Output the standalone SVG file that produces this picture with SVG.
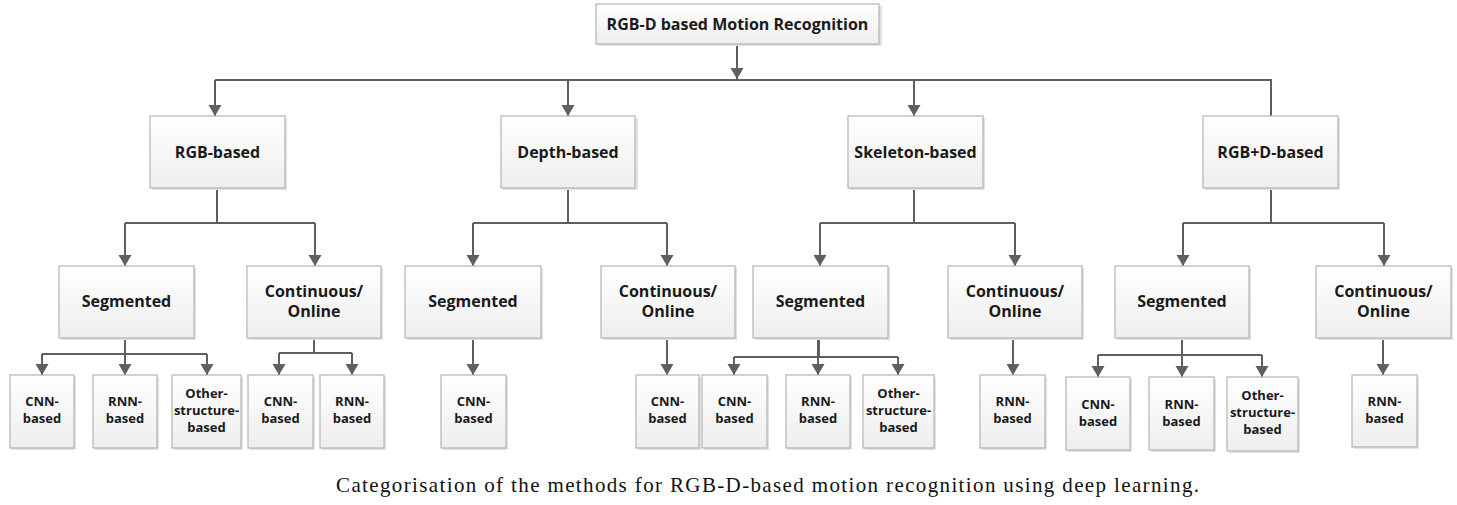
<svg xmlns="http://www.w3.org/2000/svg" width="1457" height="505" viewBox="0 0 1457 505">
<defs>
<linearGradient id="g" x1="0" y1="0" x2="0" y2="1">
<stop offset="0" stop-color="#ffffff"/>
<stop offset="1" stop-color="#eeeeee"/>
</linearGradient>
<marker id="ah" markerUnits="userSpaceOnUse" markerWidth="14" markerHeight="14" refX="11" refY="6.5" orient="auto">
<path d="M0,0 L11,6.5 L0,13 z" fill="#5f5f5f"/>
</marker>
</defs>
<style>
.b{fill:url(#g);stroke:#b4b4b4;stroke-width:1.2}
.s{fill:#e2e2e2;stroke:none}
.t{font-family:"Open Sans","DejaVu Sans",sans-serif;font-weight:bold;fill:#1a1a1a;text-anchor:middle}
.t1{font-size:16px}
.t2{font-size:16px}
.t3{font-size:13px}
.c{fill:none;stroke:#5f5f5f;stroke-width:2}
.a{marker-end:url(#ah)}
.cap{font-family:"Liberation Serif","Times New Roman",serif;font-size:21px;fill:#111;text-anchor:middle}
</style>
<g id="connectors">
<path class="c a" d="M737,44 V79"/>
<path class="c" d="M215,80 H1271 V116"/>
<path class="c a" d="M215,80 V116"/>
<path class="c a" d="M568,80 V116"/>
<path class="c a" d="M914,80 V116"/>
<path class="c" d="M217,188 V223 H125"/>
<path class="c" d="M217,223 H315"/>
<path class="c a" d="M125,223 V266"/>
<path class="c a" d="M315,223 V266"/>
<path class="c" d="M125,338 V354 H42"/>
<path class="c" d="M125,354 H207"/>
<path class="c a" d="M42,354 V375"/>
<path class="c a" d="M125,338 V375"/>
<path class="c a" d="M207,354 V375"/>
<path class="c" d="M314,338 V353 H279"/>
<path class="c" d="M314,353 H352"/>
<path class="c a" d="M279,353 V375"/>
<path class="c a" d="M352,353 V375"/>
<path class="c" d="M568,188 V223 H473"/>
<path class="c" d="M568,223 H667"/>
<path class="c a" d="M473,223 V266"/>
<path class="c a" d="M667,223 V266"/>
<path class="c a" d="M473,338 V375"/>
<path class="c a" d="M667,338 V375"/>
<path class="c" d="M914,188 V223 H820"/>
<path class="c" d="M914,223 H1015"/>
<path class="c a" d="M820,223 V266"/>
<path class="c a" d="M1015,223 V266"/>
<path class="c" d="M819,338 V357 H734"/>
<path class="c" d="M819,357 H898"/>
<path class="c a" d="M734,357 V375"/>
<path class="c a" d="M818,338 V375"/>
<path class="c a" d="M898,357 V375"/>
<path class="c a" d="M1013,338 V375"/>
<path class="c" d="M1271,188 V223 H1183"/>
<path class="c" d="M1271,223 H1384"/>
<path class="c a" d="M1183,223 V266"/>
<path class="c a" d="M1384,223 V266"/>
<path class="c" d="M1182,338 V355 H1098"/>
<path class="c" d="M1182,355 H1262"/>
<path class="c a" d="M1098,355 V377"/>
<path class="c a" d="M1182,338 V377"/>
<path class="c a" d="M1262,355 V377"/>
<path class="c a" d="M1383,338 V375"/>
</g>
<g id="root"><rect class="s" x="598" y="6" width="284" height="40"/><rect class="b" x="596" y="4" width="283" height="40"/><text class="t t1" x="737.5" y="30">RGB-D based Motion Recognition</text></g>
<g id="rgb"><rect class="s" x="152" y="118" width="135" height="72"/><rect class="b" x="150" y="116" width="135" height="72"/><text class="t t1" x="217.5" y="157.5">RGB-based</text></g>
<g id="depth"><rect class="s" x="503" y="118" width="135" height="72"/><rect class="b" x="501" y="116" width="134" height="72"/><text class="t t1" x="568" y="157.5">Depth-based</text></g>
<g id="skeleton"><rect class="s" x="850" y="118" width="135" height="72"/><rect class="b" x="848" y="116" width="135" height="72"/><text class="t t1" x="915.5" y="157.5">Skeleton-based</text></g>
<g id="rgbd"><rect class="s" x="1205" y="118" width="135" height="72"/><rect class="b" x="1203" y="116" width="135" height="72"/><text class="t t1" x="1270.5" y="157.5">RGB+D-based</text></g>

<g id="rgb-seg"><rect class="s" x="61" y="268" width="135" height="72"/><rect class="b" x="59" y="266" width="135" height="72"/><text class="t t2" x="126.5" y="307">Segmented</text></g>
<g id="rgb-cont"><rect class="s" x="249" y="268" width="134" height="72"/><rect class="b" x="247" y="266" width="134" height="72"/><text class="t t2" x="314" y="297">Continuous/</text><text class="t t2" x="314" y="317">Online</text></g>
<g id="depth-seg"><rect class="s" x="407" y="268" width="136" height="72"/><rect class="b" x="405" y="266" width="136" height="72"/><text class="t t2" x="473" y="307">Segmented</text></g>
<g id="depth-cont"><rect class="s" x="603" y="268" width="134" height="72"/><rect class="b" x="601" y="266" width="134" height="72"/><text class="t t2" x="668" y="297">Continuous/</text><text class="t t2" x="668" y="317">Online</text></g>
<g id="skel-seg"><rect class="s" x="755" y="268" width="135" height="72"/><rect class="b" x="753" y="266" width="135" height="72"/><text class="t t2" x="820.5" y="307">Segmented</text></g>
<g id="skel-cont"><rect class="s" x="950" y="268" width="134" height="72"/><rect class="b" x="948" y="266" width="134" height="72"/><text class="t t2" x="1015" y="297">Continuous/</text><text class="t t2" x="1015" y="317">Online</text></g>
<g id="rgbd-seg"><rect class="s" x="1117" y="268" width="134" height="72"/><rect class="b" x="1115" y="266" width="134" height="72"/><text class="t t2" x="1182" y="307">Segmented</text></g>
<g id="rgbd-cont"><rect class="s" x="1318" y="268" width="135" height="72"/><rect class="b" x="1316" y="266" width="135" height="72"/><text class="t t2" x="1383.5" y="297">Continuous/</text><text class="t t2" x="1383.5" y="317">Online</text></g>

<g id="rgb-seg-cnn"><rect class="s" x="12" y="377" width="64" height="73"/><rect class="b" x="10" y="375" width="64" height="73"/><text class="t t3" x="42" y="406">CNN-</text><text class="t t3" x="42" y="423">based</text></g>
<g id="rgb-seg-rnn"><rect class="s" x="95" y="377" width="64" height="73"/><rect class="b" x="93" y="375" width="64" height="73"/><text class="t t3" x="125" y="406">RNN-</text><text class="t t3" x="125" y="423">based</text></g>
<g id="rgb-seg-other"><rect class="s" x="174" y="377" width="69" height="73"/><rect class="b" x="172" y="375" width="69" height="73"/><text class="t t3" x="206.5" y="398">Other-</text><text class="t t3" x="206.5" y="415">structure-</text><text class="t t3" x="206.5" y="432">based</text></g>
<g id="rgb-cont-cnn"><rect class="s" x="250" y="377" width="65" height="73"/><rect class="b" x="248" y="375" width="65" height="73"/><text class="t t3" x="280.5" y="406">CNN-</text><text class="t t3" x="280.5" y="423">based</text></g>
<g id="rgb-cont-rnn"><rect class="s" x="322" y="377" width="64" height="73"/><rect class="b" x="320" y="375" width="64" height="73"/><text class="t t3" x="352" y="406">RNN-</text><text class="t t3" x="352" y="423">based</text></g>
<g id="depth-seg-cnn"><rect class="s" x="443" y="377" width="65" height="73"/><rect class="b" x="441" y="375" width="65" height="73"/><text class="t t3" x="473.5" y="406">CNN-</text><text class="t t3" x="473.5" y="423">based</text></g>
<g id="depth-cont-cnn"><rect class="s" x="638" y="377" width="63" height="73"/><rect class="b" x="636" y="375" width="63" height="73"/><text class="t t3" x="667.5" y="406">CNN-</text><text class="t t3" x="667.5" y="423">based</text></g>
<g id="skel-seg-cnn"><rect class="s" x="704" y="377" width="65" height="73"/><rect class="b" x="702" y="375" width="65" height="73"/><text class="t t3" x="734.5" y="406">CNN-</text><text class="t t3" x="734.5" y="423">based</text></g>
<g id="skel-seg-rnn"><rect class="s" x="788" y="377" width="64" height="73"/><rect class="b" x="786" y="375" width="64" height="73"/><text class="t t3" x="818" y="406">RNN-</text><text class="t t3" x="818" y="423">based</text></g>
<g id="skel-seg-other"><rect class="s" x="865" y="377" width="71" height="73"/><rect class="b" x="863" y="375" width="71" height="73"/><text class="t t3" x="898.5" y="398">Other-</text><text class="t t3" x="898.5" y="415">structure-</text><text class="t t3" x="898.5" y="432">based</text></g>
<g id="skel-cont-rnn"><rect class="s" x="982" y="377" width="65" height="73"/><rect class="b" x="980" y="375" width="65" height="73"/><text class="t t3" x="1012.5" y="406">RNN-</text><text class="t t3" x="1012.5" y="423">based</text></g>
<g id="rgbd-seg-cnn"><rect class="s" x="1068" y="379" width="64" height="73"/><rect class="b" x="1066" y="377" width="64" height="73"/><text class="t t3" x="1098" y="409">CNN-</text><text class="t t3" x="1098" y="426">based</text></g>
<g id="rgbd-seg-rnn"><rect class="s" x="1151" y="379" width="65" height="73"/><rect class="b" x="1149" y="377" width="65" height="73"/><text class="t t3" x="1181.5" y="409">RNN-</text><text class="t t3" x="1181.5" y="426">based</text></g>
<g id="rgbd-seg-other"><rect class="s" x="1229" y="379" width="71" height="74"/><rect class="b" x="1227" y="377" width="71" height="74"/><text class="t t3" x="1262.5" y="400">Other-</text><text class="t t3" x="1262.5" y="417">structure-</text><text class="t t3" x="1262.5" y="434">based</text></g>
<g id="rgbd-cont-rnn"><rect class="s" x="1354" y="377" width="65" height="72"/><rect class="b" x="1352" y="375" width="65" height="72"/><text class="t t3" x="1384.5" y="406">RNN-</text><text class="t t3" x="1384.5" y="423">based</text></g>

<text class="cap" x="767.5" y="492" textLength="863" lengthAdjust="spacing">Categorisation of the methods for RGB-D-based motion recognition using deep learning.</text>
</svg>
